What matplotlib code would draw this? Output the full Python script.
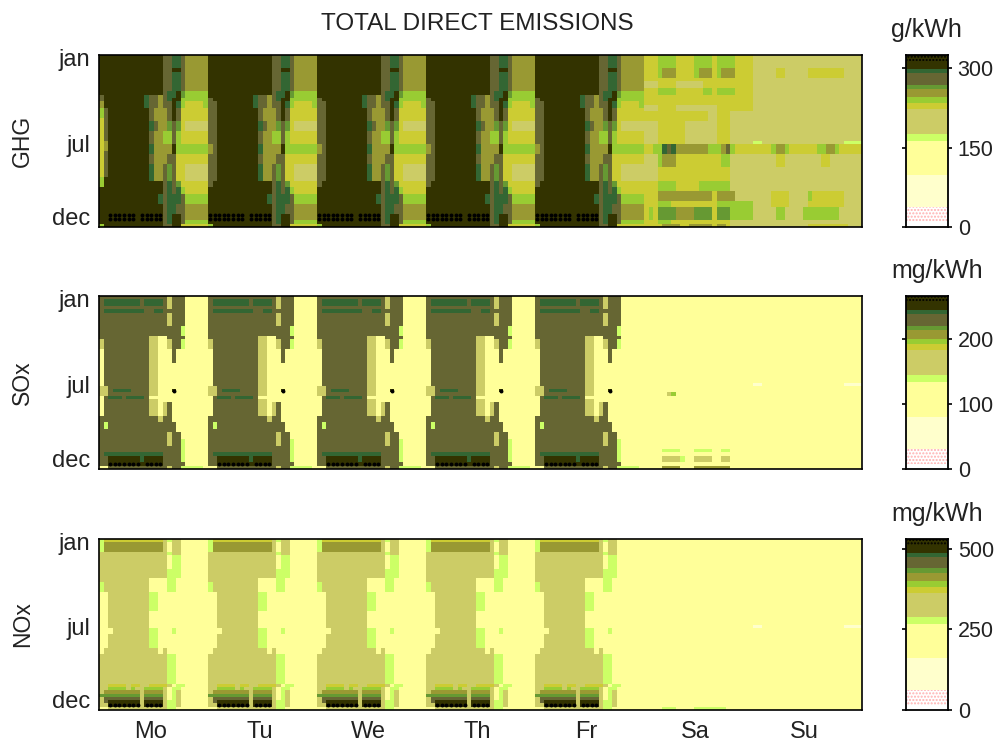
import numpy as np
import matplotlib
matplotlib.use("Agg")
import matplotlib.pyplot as plt
from matplotlib.colors import BoundaryNorm, ListedColormap

plt.rcParams["font.family"] = ["Liberation Sans", "DejaVu Sans"]

TITLE = "TOTAL DIRECT EMISSIONS"
DAYS = ["Mo", "Tu", "We", "Th", "Fr", "Sa", "Su"]
MONTHS = ["jan", "jul", "dec"]
NAMES = ["GHG", "SOx", "NOx"]
UNITS = ["g/kWh", "mg/kWh", "mg/kWh"]
CBAR_TICKS = [[0, 150, 300], [0, 100, 200], [0, 250, 500]]
CBAR_TOPS = [325, 266, 531]

# colour bands, edges in g/kWh for the GHG bar, the other two bars scale with their top
GHG_EDGES = [0, 10, 38, 98, 163, 176, 223, 234, 245, 261, 269, 291, 299, 313, 325]
BAND_COLORS = ["#ffffff", "#ffffff", "#ffffcc", "#ffff99", "#ccff66", "#cccc66", "#cccc33",
               "#99cc33", "#999933", "#669933", "#666633", "#336633", "#333300", "#333300"]
BAND_HATCH = {1: "#ffb0b0", 13: "#000000"}
CODES = "0123456789abcd"

# (number of weeks, band code per hour)
GHG_WEEKDAY = [
    (4, "ccccccccccccccaabba88888"),
    (1, "ccccccccccccccaacca88888"),
    (6, "ccccccccccccccaabba88888"),
    (1, "ccccccccccccccabbc977777"),
    (1, "ccccccccccbaa8abbc977777"),
    (1, "acccccccccbaa8abcc777777"),
    (2, "aaccccccccbaa8aacb766667"),
    (4, "aaccccccccca888aca666666"),
    (3, "aacccccccccba889a9655555"),
    (4, "aaccccccccca8877a7666666"),
    (3, "8acccccccccb8888c7777777"),
    (3, "aaccccccccca888aa6666666"),
    (5, "aacccccccccb88a9a6655555"),
    (2, "acccccccccccccaba9666666"),
    (2, "ccccccccccccccabab766666"),
    (3, "cccccccccccccbabbba77777"),
    (3, "ccccccccccccccabbaa88888"),
    (2, "ddddddddcdddddabcca88888"),
    (1, "ccccccccccccccabcca77777"),
    (1, "7cccccccccccccaacc666666"),
]
GHG_MONDAY = [
    (12, "cc"), (2, "ac"), (2, "8c"), (3, "7a"), (7, "6a"), (3, "68"),
    (8, "6a"), (3, "7c"), (11, "cc"), (1, "7c"),
]
GHG_WEEKEND = [
    (4, "666777766667777677776666" + "555555555555555555555555"),
    (3, "666788866667888678886666" + "555556655555666666665555"),
    (1, "666666666666666666666666" + "555555555555555555555555"),
    (2, "555666655555566666666666" + "555555555555555555555555"),
    (2, "666777766666677677776666" + "555555555555555555555555"),
    (3, "666666666666666666666666" + "555555555555555555555555"),
    (2, "555666655555555566666666" + "555555555555555555555555"),
    (3, "666666666666665566655555" + "555555555555555555555555"),
    (6, "555666666555555566655555" + "555555555555555555555555"),
    (1, "555666666555555566655555" + "445555555555555555554444"),
    (3, "6677bab8888888777" + "8a76666" + "66667887666666" + "7788766666"),
    (4, "5557888" + "6666666" + "66677" + "55555" + "55555" + "66" + "55555555" + "66" + "5555555"),
    (4, "555666666666666666655555" + "555555555555555555555555"),
    (3, "666" + "7777" + "66666" + "7777" + "777" + "55555" + "555555555555555555555555"),
    (3, "666888888888888688885555" + "555566665555766666665555"),
    (2, "666" + "777" + "6666666666" + "77777777" + "555566665555666666665555"),
    (4, "676" + "9999" + "8888" + "9999" + "6" + "999" + "77777" + "55555" + "77" + "5555" + "77777777" + "55555"),
    (1, "666777666666666666655555" + "555555555555555555555555"),
    (1, "666688886688888688655555" + "555555555555666666666555"),
]

SOX_WEEKDAY = [
    (1, "aaaaaaaaaaaaaaa5aaa33333"),
    (2, "abbbbbbbbabbbba5aaa33333"),
    (1, "aaaaaaaaaaaaaaa5aaa33333"),
    (1, "abbbbbbbbbaabbaaaaa33333"),
    (4, "aaaaaaaaaaaaaaa5aaa33333"),
    (3, "aaaaaaaaaaaaaaaaaa433333"),
    (1, "aaaaaaaaaaa5533aaaa33333"),
    (3, "5aaaaaaaaaa55335aa433333"),
    (4, "3aaaaaaaaaa55333a3333333"),
    (7, "3aaaaaaaaaa5533333333333"),
    (1, "55aaaaaaaaa5533333333333"),
    (1, "55abbbbaaaa55333d3333333"),
    (1, "55aaaaaaaaa5533333333333"),
    (1, "3abbbabbbba3333333333333"),
    (1, "3aaaaaaaaaa5533333333333"),
    (4, "3aaaaaaaaaa5535a33333333"),
    (2, "aaaaaaaaaaaaa5aa33333333"),
    (2, "a4aaaaaaaaaaaaaaa3333333"),
    (1, "aaaaaaaaaaaaaaaaa3333333"),
    (2, "aaaaaaaaaaaaaaa5aa333333"),
    (2, "aaaaaaaaaaaaaaa5aa433333"),
    (2, "aaaaaaaaaaaaaaaaaa433333"),
    (1, "abbbbbbbbbbbbbaaaa433333"),
    (2, "aacccccccbccccaaaa433333"),
    (1, "aadddddddcddddaaaaa33333"),
    (1, "33aaaaaaaaaaaaa5aa444443"),
]
SOX_WEEKEND = [
    (26, "3" * 48),
    (1, "3" * 24 + "22" + "3" * 18 + "2222"),
    (2, "3" * 48),
    (1, "33333" + "57" + "3" * 41),
    (16, "3" * 48),
    (1, "3333" + "4444" + "333" + "4444" + "33" + "44" + "3" * 29),
    (1, "3" * 48),
    (2, "3333" + "5555" + "433" + "5555" + "33" + "55" + "3" * 29),
    (1, "3" * 48),
    (1, "3333" + "8888" + "333" + "88888888" + "3" * 29),
]

NOX_WEEKDAY = [
    (1, "466666666666665455333333"),
    (3, "488888888888885355333333"),
    (1, "555555555555555455333333"),
    (4, "555555555555555344333333"),
    (3, "555555555555555444333333"),
    (1, "555555555553333443333333"),
    (3, "455555555553333443333333"),
    (6, "335555555554433333333333"),
    (5, "335555555553333333333333"),
    (2, "333555555554433343333333"),
    (4, "335555555554433333333333"),
    (2, "355555555555535333333333"),
    (9, "555555555555555443333333"),
    (1, "556666566556666534433333"),
    (1, "557777575577775344333333"),
    (1, "588888888588885345333333"),
    (1, "999999999599995345333333"),
    (1, "5aaaaaaaa5aaaa5345333333"),
    (1, "5accccccc5cccc5445333333"),
    (1, "55ddddddd5dddd5445333333"),
    (1, "335555555555555443333333"),
]
NOX_WEEKEND = [
    (26, "3" * 48),
    (1, "3" * 24 + "22" + "3" * 18 + "2222"),
    (24, "3" * 48),
    (1, "3333" + "444" + "3333" + "4444444" + "3" * 30),
]

WEEKDAY_TABLES = [GHG_WEEKDAY, SOX_WEEKDAY, NOX_WEEKDAY]
WEEKEND_TABLES = [GHG_WEEKEND, SOX_WEEKEND, NOX_WEEKEND]
MONDAY_TABLES = [GHG_MONDAY, None, None]


def expand(table):
    """Turn (weeks, codes) runs into a weeks x hours array of band numbers."""
    rows = []
    for weeks, codes in table:
        rows += [[CODES.index(c) for c in codes]] * weeks
    return np.array(rows)


def week_grid(weekday, weekend, monday):
    day = expand(weekday)
    grid = np.hstack([day] * 5 + [expand(weekend)])
    if monday is not None:
        grid[:, :2] = expand(monday)
    return grid


W, H = 997, 745
fig = plt.figure(figsize=(W / 100, H / 100), dpi=100)

MAIN_X = (99, 862)
CBAR_X = (906, 948)
ROWS_Y = [(55, 227), (296, 469), (539, 710)]
TEXT_COLOR = "#222222"


def make_axes(x, y):
    return fig.add_axes([x[0] / W, 1 - y[1] / H, (x[1] - x[0]) / W, (y[1] - y[0]) / H])


cmap = ListedColormap(BAND_COLORS)

for i, name in enumerate(NAMES):
    scale = CBAR_TOPS[i] / GHG_EDGES[-1]
    edges = np.array(GHG_EDGES) * scale
    mids = (edges[:-1] + edges[1:]) / 2
    grid = week_grid(WEEKDAY_TABLES[i], WEEKEND_TABLES[i], MONDAY_TABLES[i])
    values = mids[grid]

    ax = make_axes(MAIN_X, ROWS_Y[i])
    ax.pcolormesh(values, cmap=cmap, norm=BoundaryNorm(edges, cmap.N), rasterized=True)
    # top band is drawn dotted
    rr, cc = np.nonzero(grid == 13)
    ax.scatter(cc + 0.5, rr + 0.5, s=8, c="black", marker="o", linewidths=0)
    ax.set_xlim(0, 168)
    ax.set_ylim(52, 0)
    ax.set_xticks([])
    ax.set_yticks([])
    for s in ax.spines.values():
        s.set_linewidth(1.2)
    for m, r in zip(MONTHS, [1.6, 27.4, 49.6]):
        ax.text(-0.011, r, m, transform=ax.get_yaxis_transform(), ha="right", va="center",
                fontsize=17, color=TEXT_COLOR)
    ax.text(-0.10, 0.5, name, transform=ax.transAxes, rotation=90, ha="center", va="center",
            fontsize=16.5, color=TEXT_COLOR)
    if i == 2:
        for d, day in enumerate(DAYS):
            ax.text(24 * d + 11.3, 58.6, day, ha="center", va="center", fontsize=17, color=TEXT_COLOR)

    # colour bar as stacked bands
    cax = make_axes(CBAR_X, ROWS_Y[i])
    for b, color in enumerate(BAND_COLORS):
        cax.bar(0.5, edges[b + 1] - edges[b], bottom=edges[b], width=1, color=color,
                edgecolor=BAND_HATCH.get(b, color), hatch="....." if b in BAND_HATCH else None,
                linewidth=0)
    cax.set_xlim(0, 1)
    cax.set_ylim(0, CBAR_TOPS[i])
    cax.set_xticks([])
    cax.set_yticks(CBAR_TICKS[i])
    cax.tick_params(axis="y", left=True, right=True, length=3, width=1.2, labelsize=15.5, pad=4,
                    labelleft=False, labelright=True, direction="out", labelcolor=TEXT_COLOR)
    for s in cax.spines.values():
        s.set_linewidth(1.3)
    fig.text(891 / W, 1 - (ROWS_Y[i][0] - 25) / H, UNITS[i], ha="left", va="center", fontsize=18,
             color=TEXT_COLOR)

fig.text(477 / W, 1 - 24 / H, TITLE, ha="center", va="center", fontsize=17.5, color=TEXT_COLOR)

fig.savefig("out.png", dpi=100)
